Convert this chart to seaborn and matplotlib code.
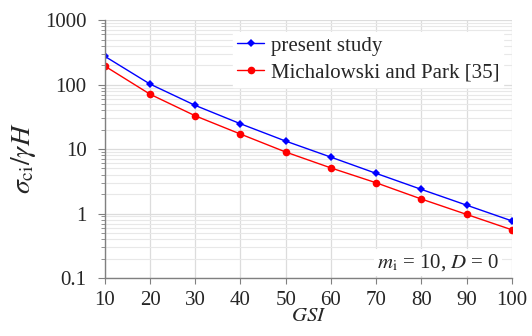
import matplotlib
matplotlib.use("Agg")
import matplotlib.pyplot as plt
import seaborn as sns
import pandas as pd
import numpy as np
from matplotlib.ticker import LogLocator, NullFormatter

gsi = [10, 20, 30, 40, 50, 60, 70, 80, 90, 100]
present_study = [275, 102, 47.6, 24.7, 13.3, 7.5, 4.2, 2.37, 1.35, 0.77]
michalowski = [194, 71, 32.8, 17.1, 9.0, 5.1, 3.0, 1.68, 0.97, 0.56]
labels = ["present study", "Michalowski and Park [35]"]
yticks = [0.1, 1, 10, 100, 1000]
ytick_labels = ["0.1", "1", "10", "100", "1000"]

sns.set_theme(style="white")
plt.rcParams['font.family'] = ['Liberation Serif', 'DejaVu Serif']
plt.rcParams['mathtext.fontset'] = 'stix'

df = pd.DataFrame({
    "GSI": gsi * 2,
    "val": present_study + michalowski,
    "series": [labels[0]] * len(gsi) + [labels[1]] * len(gsi),
})

fig = plt.figure(figsize=(5.32, 3.36), dpi=100)
ax = fig.add_axes([0.197, 0.1726, 0.765, 0.7674])

sns.lineplot(data=df[df.series == labels[0]], x="GSI", y="val", ax=ax,
             color="#0000ff", marker="D", markersize=4, markeredgewidth=0,
             linewidth=1.0, label=labels[0])
sns.lineplot(data=df[df.series == labels[1]], x="GSI", y="val", ax=ax,
             color="#ff0000", marker="o", markersize=5.5, markeredgewidth=0,
             linewidth=1.0, label=labels[1])

ax.set_yscale("log")
ax.set_ylim(0.1, 1000)
ax.set_xlim(10, 100)
ax.set_xticks(gsi)
ax.set_yticks(yticks)
ax.set_yticklabels(ytick_labels)
ax.yaxis.set_minor_locator(LogLocator(base=10, subs=np.arange(2, 10)))
ax.yaxis.set_minor_formatter(NullFormatter())

ax.grid(True, which="major", color="#dcdcdc", linewidth=0.9)
ax.grid(True, which="minor", axis="y", color="#e8e8e8", linewidth=0.8)
ax.set_axisbelow(True)

for s in ["top", "right"]:
    ax.spines[s].set_visible(False)
for s in ["left", "bottom"]:
    ax.spines[s].set_color("#808080")
    ax.spines[s].set_linewidth(1.0)

ax.tick_params(axis="y", which="major", direction="out", length=5,
               width=0.8, color="#808080", labelsize=15, pad=8, left=True)
ax.tick_params(axis="x", which="major", direction="out", length=4,
               width=0.8, color="#808080", labelsize=15, pad=5, bottom=True)
ax.tick_params(axis="y", which="minor", direction="out", length=3,
               width=0.6, color="#808080", left=True)

ax.set_xlabel("$GSI$", fontsize=15, labelpad=-2)
ax.set_ylabel(r"$\sigma_{\mathrm{ci}}/\gamma H$", fontsize=20)
ax.yaxis.set_label_coords(-0.163, 0.465)

leg = ax.legend(loc="upper right", bbox_to_anchor=(0.979, 0.955), frameon=True,
                fontsize=15, handlelength=1.3, handletextpad=0.3,
                borderpad=0.2, labelspacing=0.35, fancybox=False,
                borderaxespad=0)
leg.get_frame().set_facecolor("white")
leg.get_frame().set_edgecolor("white")
leg.get_frame().set_alpha(1)

ax.text(0.97, 0.02, r"$m_{\mathrm{i}}$ = 10, $D$ = 0", transform=ax.transAxes,
        ha="right", va="bottom", fontsize=15,
        bbox=dict(facecolor="white", edgecolor="none", pad=2))

fig.savefig("out.png", dpi=100)
